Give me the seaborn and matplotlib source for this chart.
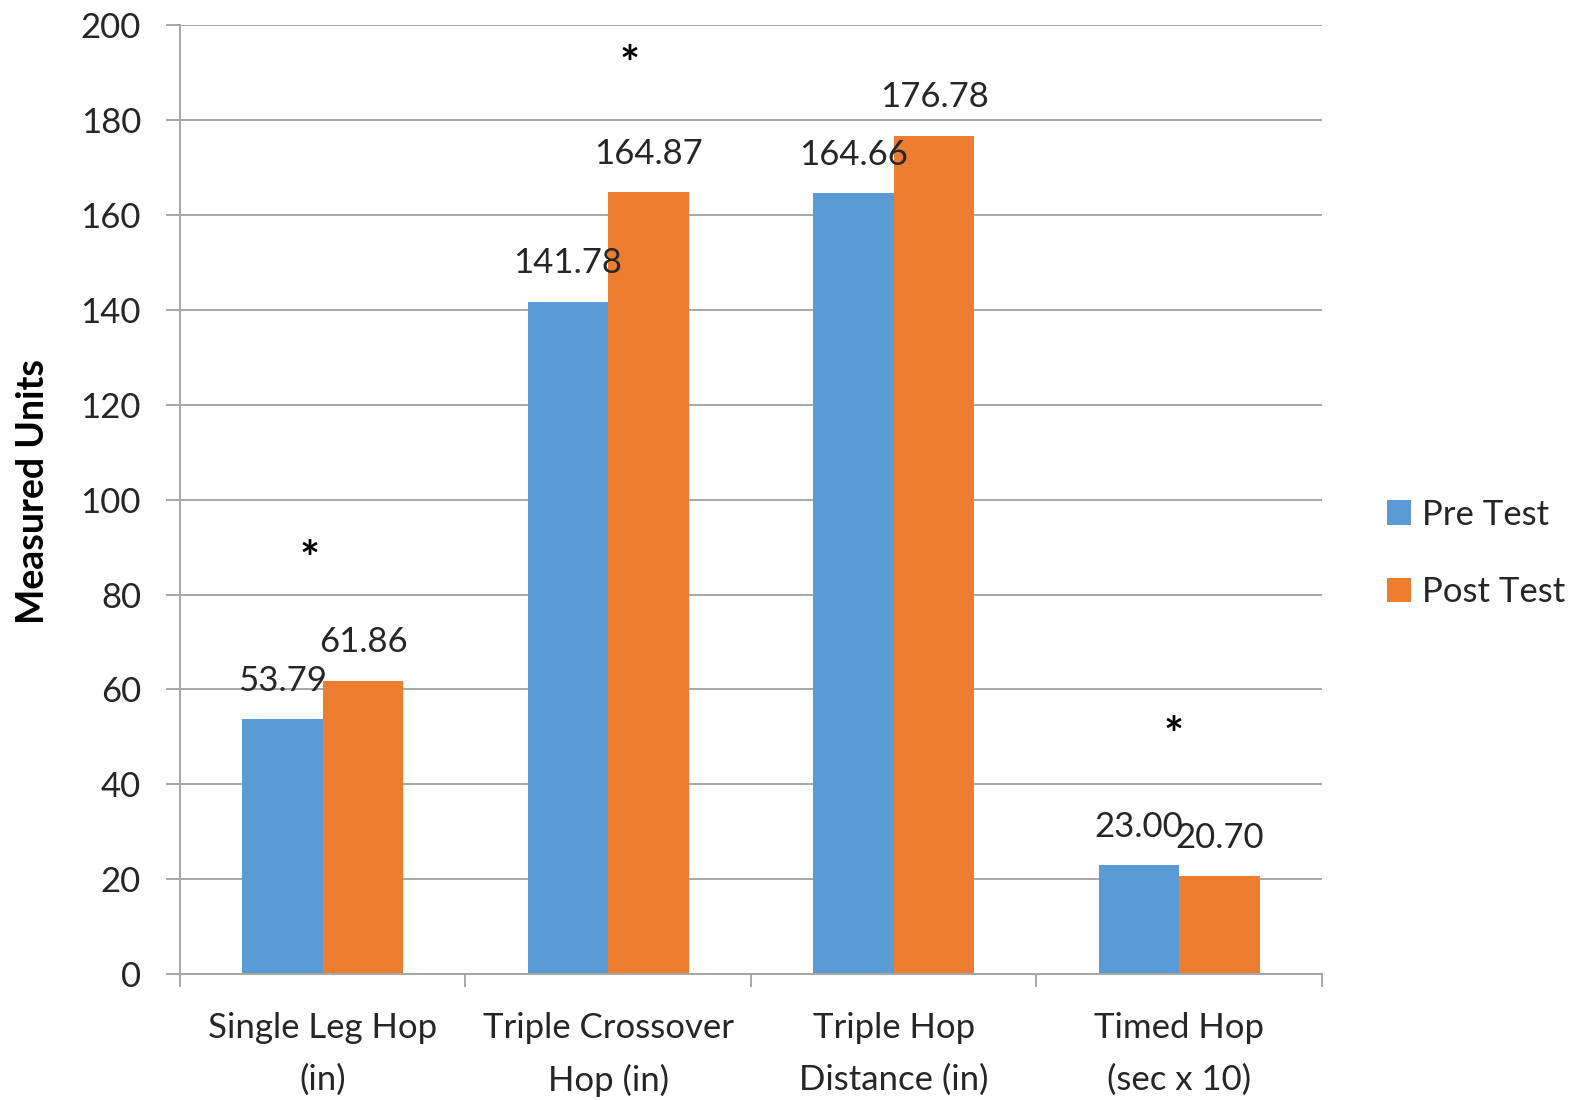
import matplotlib
matplotlib.use("Agg")
import matplotlib.pyplot as plt
from matplotlib.ticker import FixedLocator
import seaborn as sns
import pandas as pd

categories = ["Single Leg Hop\n(in)", "Triple Crossover\nHop (in)",
              "Triple Hop\nDistance (in)", "Timed Hop\n(sec x 10)"]
pre_test = [53.79, 141.78, 164.66, 23.00]
post_test = [61.86, 164.87, 176.78, 20.70]
series = ["Pre Test", "Post Test"]
colors = ["#5B9BD5", "#ED7D31"]
# significance markers: (category index, offset within category, height)
star_x = [0 - 0.047, 1 + 0.076, 3 - 0.018]
star_y = [87.0, 191.4, 50.0]

df = pd.DataFrame({
    "Category": categories * 2,
    "Value": pre_test + post_test,
    "Test": [series[0]] * len(categories) + [series[1]] * len(categories),
})

sns.set_theme(style="white")
plt.rcParams["font.family"] = ["Lato", "DejaVu Sans"]

fig = plt.figure(figsize=(15.91, 11), dpi=100)
ax = fig.add_axes([0.1131, 0.1145, 0.7178, 0.8624])

sns.barplot(data=df, x="Category", y="Value", hue="Test", palette=colors,
            width=0.565, gap=0, ax=ax, errorbar=None, saturation=1,
            edgecolor="none", linewidth=0)

for cont in ax.containers:
    ax.bar_label(cont, fmt="%.2f", padding=16, fontsize=25, color="#262626")

for sx, sy in zip(star_x, star_y):
    ax.text(sx, sy, "*", ha="center", va="center", fontsize=34, color="black",
            fontweight="bold")

ax.set_xlim(-0.5, len(categories) - 0.5)
ax.set_ylim(0, 200)
ax.set_yticks(range(0, 201, 20))
ax.yaxis.grid(True, color="#A6A6A6", linewidth=1.4)
ax.set_axisbelow(True)
for side in ["top", "right"]:
    ax.spines[side].set_visible(False)
for side in ["left", "bottom"]:
    ax.spines[side].set_color("#A6A6A6")
    ax.spines[side].set_linewidth(1.4)

ax.xaxis.set_minor_locator(FixedLocator([i - 0.5 for i in range(len(categories) + 1)]))
ax.tick_params(axis="x", which="major", length=0, pad=27, labelsize=25,
               labelcolor="#262626")
for lbl in ax.get_xticklabels():
    lbl.set_linespacing(1.75)
ax.tick_params(axis="x", which="minor", bottom=True, length=9, width=1.4,
               color="#A6A6A6")
ax.tick_params(axis="y", left=True, length=10, width=1.4, color="#A6A6A6",
               pad=18, labelsize=25, labelcolor="#262626")
ax.set_xlabel("")
ax.set_ylabel("")

fig.text(0.021, 0.553, "Measured Units", rotation=90, ha="center", va="center",
         fontsize=27, fontweight="bold", color="black")

handles, labels = ax.get_legend_handles_labels()
ax.legend(handles, labels, loc="center left", bbox_to_anchor=(0.852, 0.497),
          bbox_transform=fig.transFigure, frameon=False, fontsize=25,
          handlelength=0.7, handleheight=0.7, handletextpad=0.3,
          labelspacing=1.3, labelcolor="#262626")

fig.savefig("out.png", dpi=100)
